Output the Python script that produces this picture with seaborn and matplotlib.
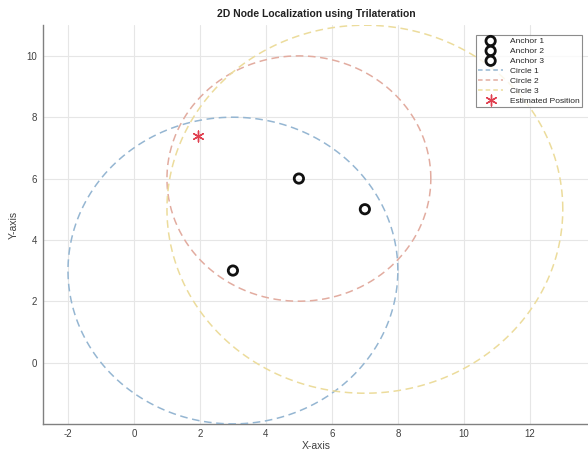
import numpy as np
import pandas as pd
import matplotlib
matplotlib.use("Agg")
import matplotlib.pyplot as plt
import seaborn as sns

# Data
anchor_names = ["Anchor 1", "Anchor 2", "Anchor 3"]
anchor_x = [3, 5, 7]
anchor_y = [3, 6, 5]
radii = [5, 4, 6]
circle_names = ["Circle 1", "Circle 2", "Circle 3"]
est_x = [1.95]
est_y = [7.4]
x_ticks = [-2, 0, 2, 4, 6, 8, 10, 12]
y_ticks = [0, 2, 4, 6, 8, 10]

circle_colors = ["#95b6d2", "#e2aca0", "#ecdc9c"]

sns.set_style("white")
plt.rcParams['font.family'] = ['Liberation Sans', 'DejaVu Sans']
plt.rcParams['axes.unicode_minus'] = False

fig = plt.figure(figsize=(5.88, 4.5), dpi=100)
ax = fig.add_axes([0.073, 0.058, 0.929, 0.886])

# anchors
for i, name in enumerate(anchor_names):
    df = pd.DataFrame({"x": [anchor_x[i]], "y": [anchor_y[i]]})
    sns.scatterplot(data=df, x="x", y="y", ax=ax, marker="o", s=45,
                    facecolors="none", edgecolor="#111111", linewidth=2.0,
                    label=name, zorder=5)

# circles
theta = np.linspace(0, 2 * np.pi, 400)
for i, name in enumerate(circle_names):
    df = pd.DataFrame({"x": anchor_x[i] + radii[i] * np.cos(theta),
                       "y": anchor_y[i] + radii[i] * np.sin(theta)})
    sns.lineplot(data=df, x="x", y="y", ax=ax, sort=False, estimator=None,
                 color=circle_colors[i], linewidth=1.1, dashes=False,
                 label=name, zorder=3)
    ax.lines[-1].set_linestyle((0, (5, 3)))

# estimated position
df_est = pd.DataFrame({"x": est_x, "y": est_y})
sns.scatterplot(data=df_est, x="x", y="y", ax=ax, marker=(6, 2, 0), s=60,
                color="#e04050", linewidth=1.0, label="Estimated Position",
                zorder=6)

ax.set_xlim(-2.76, 13.8)
ax.set_ylim(-2.0, 11.0)
ax.set_xticks(x_ticks)
ax.set_yticks(y_ticks)
ax.grid(True, color="#e6e6e6", linewidth=0.8)
ax.set_axisbelow(True)
for s in ["top", "right"]:
    ax.spines[s].set_visible(False)
for s in ["left", "bottom"]:
    ax.spines[s].set_color("#808080")
    ax.spines[s].set_linewidth(1.0)
ax.tick_params(axis="both", direction="in", length=3, width=0.8,
               color="#808080", labelsize=7, labelcolor="#404040", pad=4)

ax.set_title("2D Node Localization using Trilateration", fontsize=7.5,
             fontweight="bold", color="#222222", pad=6)
ax.set_xlabel("X-axis", fontsize=7.5, color="#404040", labelpad=1)
ax.set_ylabel("Y-axis", fontsize=7.5, color="#404040", labelpad=6)

leg = ax.legend(loc="upper right", bbox_to_anchor=(0.99, 0.98), fontsize=6,
                frameon=True, fancybox=False, edgecolor="#707070",
                borderpad=0.3, labelspacing=0.25, handlelength=3.0,
                handletextpad=0.8, borderaxespad=0.2)
leg.get_frame().set_linewidth(0.8)
for h in leg.legend_handles[3:6]:
    h.set_linestyle((0, (3, 2)))

fig.savefig("out.png", dpi=100)
